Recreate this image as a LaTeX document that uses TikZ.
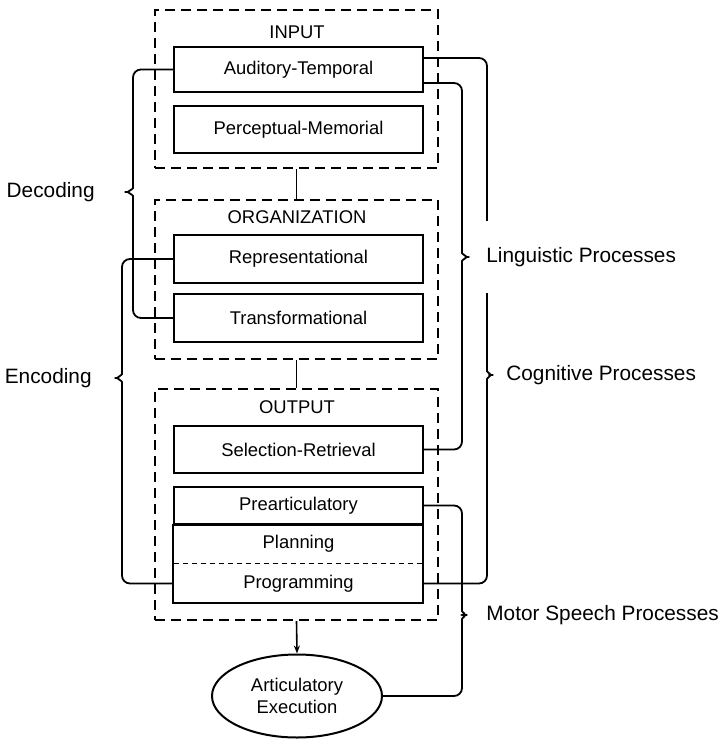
\documentclass[tikz,border=0pt]{standalone}
\usepackage{fontspec}
\setmainfont{Liberation Sans}
\usetikzlibrary{positioning,calc,shapes.geometric,arrows.meta}

\begin{document}
\begin{tikzpicture}[
    x=0.5pt, y=-0.5pt,
    group/.style={
        draw,
        line width=1pt,
        dash pattern=on 5pt off 3pt,
        minimum width=141.5pt,
        inner sep=0pt
    },
    box/.style={
        draw,
        line width=1pt,
        minimum width=124.5pt,
        inner sep=0pt,
        font=\fontsize{9.2}{11}\selectfont
    },
    plain/.style={
        minimum width=124.5pt,
        inner sep=0pt,
        font=\fontsize{9.2}{11}\selectfont
    },
    title/.style={
        inner sep=0pt,
        font=\fontsize{9.2}{11}\selectfont
    },
    link/.style={
        line width=0.9pt,
        rounded corners=4pt
    },
    lbl/.style={
        inner sep=0pt,
        font=\fontsize{10.4}{12.5}\selectfont
    }
]

\useasboundingbox (0,0) rectangle (722,741);

% Dashed groups
\node[group, minimum height=79pt] (inp) at (296.5,89) {};
\node[group, minimum height=79.5pt] (org) at (296.5,279.5) {};
\node[group, minimum height=115.5pt] (outp) at (296.5,504.5) {};

\node[title] at (297,32) {INPUT};
\node[title] at (297,217) {ORGANIZATION};
\node[title] at (297,407) {OUTPUT};

% Input boxes
\node[box, minimum height=22.5pt] (aud) at (298.5,69.5) {Auditory-Temporal};
\node[box, minimum height=23.5pt] (perc) at (298.5,129.5) {Perceptual-Memorial};

% Organization boxes
\node[box, minimum height=24pt] (rep) at (298.5,259) {Representational};
\node[box, minimum height=24pt] (trans) at (298.5,318) {Transformational};

% Output boxes
\node[box, minimum height=23.5pt] (sel) at (298.5,449.5) {Selection-Retrieval};
\node[box, minimum height=18.5pt] (prea) at (298.5,505.5) {Prearticulatory};
\node[plain, minimum height=20pt] (plan) at (298.5,544) {Planning};
\node[plain, minimum height=19.5pt] (prog) at (298.5,583.5) {Programming};
\draw[line width=1pt] (prea.south west) rectangle (prog.south east);
\draw[line width=0.8pt, dash pattern=on 2.5pt off 2pt] (prog.north west) -- (prog.north east);

% Execution
\node[ellipse, draw, line width=1pt, minimum width=85pt, minimum height=41.5pt,
      inner sep=0pt, align=center, font=\fontsize{9.2}{10.8}\selectfont]
      (art) at (297,696) {Articulatory\\Execution};

\draw[line width=0.8pt] (inp.south) -- (org.north);
\draw[line width=0.8pt] (org.south) -- (outp.north);
\draw[line width=0.8pt, -{Stealth[length=4pt,width=3pt]}] (outp.south) -- (art.north);

% Left braces
\coordinate (dec) at (133,192);
\coordinate (dectip) at ($(dec)+(-13,0)$);
\draw[link] (aud.west) -| ($(dec)+(0,-12)$)
    .. controls ($(dec)+(0,-3)$) and ($(dec)+(-6,0)$) .. (dectip)
    .. controls ($(dec)+(-6,0)$) and ($(dec)+(0,3)$) .. ($(dec)+(0,12)$)
    |- (trans.west);
\node[lbl, left=12.5pt of dectip] (declbl) {Decoding};

\coordinate (enc) at (122,378);
\coordinate (enctip) at ($(enc)+(-12,0)$);
\draw[link] (rep.west) -| ($(enc)+(0,-12)$)
    .. controls ($(enc)+(0,-3)$) and ($(enc)+(-6,0)$) .. (enctip)
    .. controls ($(enc)+(-6,0)$) and ($(enc)+(0,3)$) .. ($(enc)+(0,12)$)
    |- (prog.west);
\node[lbl, left=9pt of enctip] (enclbl) {Encoding};

% Right braces
\coordinate (cog) at (487,375);
\coordinate (cogtip) at ($(cog)+(11,0)$);
\draw[link] ($(aud.north east)+(0,12)$) -| ($(cog)+(0,-12)$)
    .. controls ($(cog)+(0,-3)$) and ($(cog)+(5,0)$) .. (cogtip)
    .. controls ($(cog)+(5,0)$) and ($(cog)+(0,3)$) .. ($(cog)+(0,12)$)
    |- (prog.east);
\node[lbl, right=4pt of cogtip] (coglbl) {Cognitive Processes};

\coordinate (ling) at (462,257);
\coordinate (lingtip) at ($(ling)+(12,0)$);
\draw[link] ($(aud.south east)+(0,-10)$) -| ($(ling)+(0,-12)$)
    .. controls ($(ling)+(0,-3)$) and ($(ling)+(6,0)$) .. (lingtip)
    .. controls ($(ling)+(6,0)$) and ($(ling)+(0,3)$) .. ($(ling)+(0,12)$)
    |- (sel.east);
\node[lbl, fill=white, inner xsep=3pt, inner ysep=13pt, right=3pt of lingtip] (linglbl) {Linguistic Processes};

\coordinate (mot) at (462,615);
\coordinate (mottip) at ($(mot)+(10,0)$);
\draw[link] (prea.east) -| ($(mot)+(0,-12)$)
    .. controls ($(mot)+(0,-3)$) and ($(mot)+(5,0)$) .. (mottip)
    .. controls ($(mot)+(5,0)$) and ($(mot)+(0,3)$) .. ($(mot)+(0,12)$)
    |- (art.east);
\node[lbl, right=7pt of mottip] (motlbl) {Motor Speech Processes};

\end{tikzpicture}
\end{document}
